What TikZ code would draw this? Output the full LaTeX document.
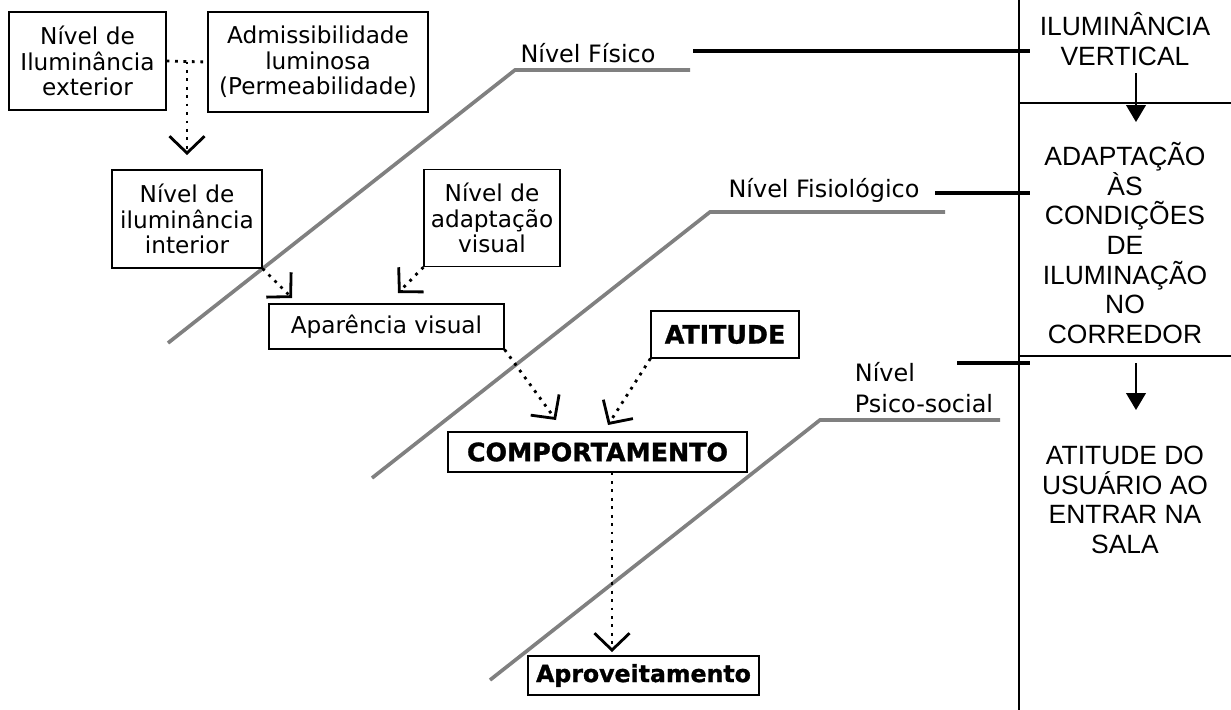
\documentclass[tikz,border=0pt]{standalone}
\usepackage{fontspec}
\setmainfont{DejaVu Sans}
\newfontfamily\arialfont{Liberation Sans}
\newfontfamily\heavyfont[FakeBold=1.2]{DejaVu Sans Bold}
\usetikzlibrary{arrows.meta}

\begin{document}
\begin{tikzpicture}[x=0.025cm,y=-0.025cm,
  box/.style={draw,line width=0.8pt,align=center,inner sep=0pt,font=\fontsize{16.5}{18}\selectfont},
  bigbox/.style={draw,line width=0.8pt,inner sep=0pt,font=\heavyfont\fontsize{18}{20}\selectfont},
  dots/.style={line width=2pt,dash pattern=on 2pt off 4pt},
  flow/.style={dots,-{Straight Barb[length=12pt,width=25pt,line width=2pt]}},
  level/.style={line width=2.6pt,gray},
  tie/.style={line width=2.6pt},
  lbl/.style={font=\fontsize{17}{22}\selectfont},
  col/.style={font=\arialfont\fontsize{18.8}{21}\selectfont,align=center},
  down/.style={line width=1pt,-{Triangle[length=12pt,width=14pt]}}
]
\useasboundingbox (0,0) rectangle (1231,710);

% Levels
\draw[level] (168,343) -- (515,70) -- (690,70);
\draw[level] (372,478) -- (710,212) -- (945,212);
\draw[level] (490,680) -- (820,420) -- (1000,420);

\node[lbl] (fis) at (588,53) {Nível Físico};
\node[lbl] (fisio) at (824,190) {Nível Fisiológico};
\node[lbl, align=left] (psico) at (924,388) {Nível\\Psico-social};

\draw[tie] (693,51) -- (1030,51);
\draw[tie] (935,193) -- (1030,193);
\draw[tie] (957,363) -- (1030,363);

% Boxes
\node[box, minimum width=3.925cm, minimum height=2.45cm] (ext) at (87.5,61) {Nível de\\Iluminância\\exterior};
\node[box, minimum width=5.5cm, minimum height=2.5cm] (adm) at (318,62) {Admissibilidade\\luminosa\\(Permeabilidade)};
\node[box, minimum width=3.75cm, minimum height=2.45cm] (int) at (187,219) {Nível de\\iluminância\\interior};
\node[box, minimum width=3.4cm, minimum height=2.43cm] (adap) at (492,218) {Nível de\\adaptação\\visual};
\node[box, minimum width=5.875cm, minimum height=1.125cm] (apar) at (386.5,326.5) {Aparência visual};
\node[bigbox, minimum width=3.7cm, minimum height=1.175cm] (atit) at (725,334.5) {ATITUDE};
\node[bigbox, minimum width=7.475cm, minimum height=1cm] (comp) at (597.5,452) {COMPORTAMENTO};
\node[bigbox, font=\heavyfont\fontsize{16.8}{20}\selectfont, minimum width=5.775cm, minimum height=0.975cm] (aprov) at (643.5,675.5) {Aproveitamento};

% Arrow tips
\coordinate (t1) at (186,155);
\coordinate (t2) at (292,298);
\coordinate (t3) at (398,293);
\coordinate (t4) at (556,420);
\coordinate (t5) at (608,425);
\coordinate (t6) at (612,652);

\draw[dots] (ext.east) -- coordinate[midway] (mid) (adm.west);
\draw[flow] (mid) -- (mid |- t1);
\draw[flow] (int.south east) -- (t2);
\draw[flow] (adap.south west) -- (t3);
\draw[flow] (apar.south east) -- (t4);
\draw[flow] (atit.south west) -- (t5);
\draw[flow] (comp.south -| t6) -- (t6);

% Right column
\draw[line width=1.2pt] (1019,0) -- (1019,710);
\draw[line width=1.2pt] (1019,103) -- (1231,103);
\draw[line width=1.2pt] (1019,356) -- (1231,356);

\node[col] (ilu) at (1125,39) {ILUMINÂNCIA\\VERTICAL};
\node[col] (cond) at (1125,243) {ADAPTAÇÃO\\ÀS\\CONDIÇÕES\\DE\\ILUMINAÇÃO\\NO\\CORREDOR};
\node[col] (usu) at (1125,500) {ATITUDE DO\\USUÁRIO AO\\ENTRAR NA\\SALA};

\draw[down] (1136,73) -- (1136,122);
\draw[down] (1136,363) -- (1136,410);
\end{tikzpicture}
\end{document}
